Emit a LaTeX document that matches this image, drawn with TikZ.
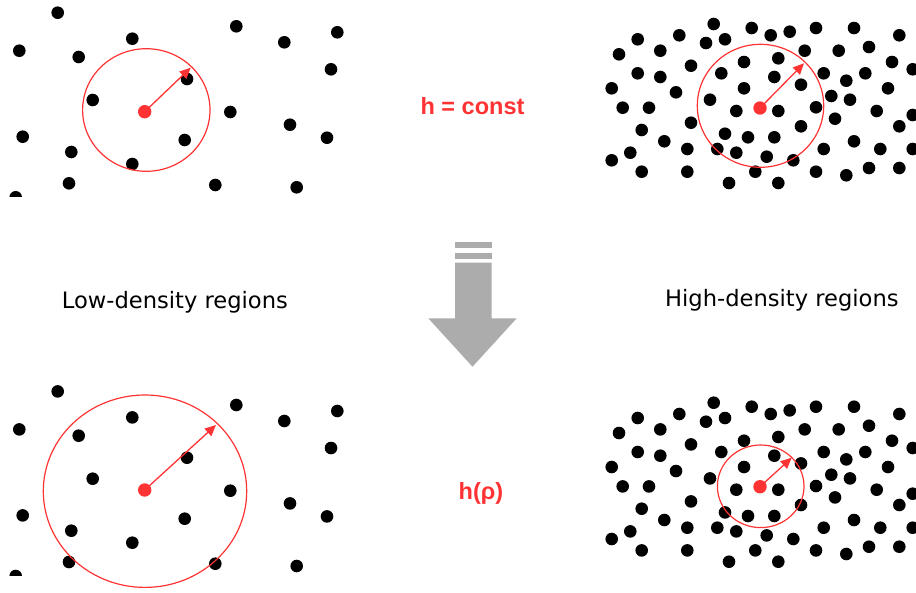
\documentclass[tikz,border=0pt]{standalone}
\usepackage{fontspec}
\newfontfamily\regfont{DejaVu Sans}
\newfontfamily\hfont{Liberation Sans}
\usetikzlibrary{arrows.meta}
\definecolor{hred}{RGB}{255,51,51}
\definecolor{arrowgray}{RGB}{172,172,172}
\tikzset{
  dotpt/.style={fill=black},
  ring/.style={draw=hred, line width=1.2pt},
  radarrow/.style={draw=hred, line width=1.3pt, -{Triangle[length=11pt,width=10pt]}},
  hlabel/.style={text=hred, font=\hfont\bfseries\fontsize{23.5}{28}\selectfont, inner sep=0pt, anchor=base},
  reglabel/.style={text=black, font=\regfont\fontsize{22.6}{27}\selectfont, inner sep=0pt, anchor=base west},
}
\newcommand\leftdots{%
  \foreach \x/\y in {57.7/12.7, 19.3/50.7, 132.3/38.7, 78.7/57, 236.3/26.3, 284.3/42.3,
    337.3/32.3, 331/69.3, 187/79, 92.7/100, 230.3/112, 290/124.7, 327/137.7, 22.7/136.7,
    184.7/140, 71.3/152, 132.3/164, 69/183.3, 215.3/185, 296.7/187.3, 15.7/197.3}
    {\fill[dotpt] (\x,\y) circle[radius=6.3pt];}}
\newcommand\rightdots{%
  \foreach \x/\y in {713.7/24, 751.7/28, 770.7/35.3, 789.7/31.7, 816/28, 854/28, 899.3/35.3,
    637.7/39.3, 679.3/35.3, 706/43, 725/39.3, 619/54.3, 660.3/50.7, 804.7/50.7, 838.7/50.7,
    869/47, 744/62, 778.3/58.3, 691/65.7, 892/62, 637.7/73.3, 660.3/77, 721.3/73.3,
    774.3/77, 823.7/73.3, 865.3/73.3, 912.7/69.3, 846.3/80.7, 611.7/88.3, 676/92.3,
    744/88.3, 801/84.7, 888/88.3, 831.3/96, 850/99.7, 710/99.7, 622.7/107.7, 649/107.7,
    736.3/111, 778.3/111, 816/107.3, 876.7/111, 912.7/115, 691/122.7, 835/118.7,
    801/126.3, 899.3/126.3, 641.7/130, 725/133.7, 748/137.3, 774.3/137.3, 664.3/141.3,
    854/141.3, 912.7/149, 687.3/149, 717.3/149, 736.3/152.7, 766.7/156.7, 823.7/149,
    880.3/149, 630.3/152.7, 611.7/160.3, 793.3/160.3, 641.7/171.7, 687.3/171.7,
    755.3/171.7, 816/171.7, 846.3/175.3, 869/168, 899.3/168, 729/183, 778.3/183}
    {\fill[dotpt] (\x,\y) circle[radius=6.3pt];}}
\begin{document}
\begin{tikzpicture}[x=1pt, y=-1pt]
\useasboundingbox (0,0) rectangle (916,592);
\clip (0,0) rectangle (916,592);
% ---- top-left: low density, h = const
\begin{scope}
  \clip (0,0) rectangle (350,196.8);
  \leftdots
\end{scope}
\draw[ring] (146.3,110) ellipse[x radius=63.7pt, y radius=61.3pt];
\fill[hred] (144.7,111.7) circle[radius=6.7pt];
\coordinate (tlc) at (144.7,111.7);
\coordinate (tlt) at (190.7,67.7);
\draw[radarrow] (tlc) -- (tlt);
% ---- top-right: high density, h = const
\rightdots
\draw[ring] (760.5,105.8) ellipse[x radius=63.2pt, y radius=61.5pt];
\fill[hred] (760,108) circle[radius=6.7pt];
\coordinate (trc) at (760,108);
\coordinate (trt) at (804,63.3);
\draw[radarrow] (trc) -- (trt);
% ---- bottom-left: low density, h(rho)
\begin{scope}[shift={(0,378.7)}]
  \begin{scope}
    \clip (0,0) rectangle (350,196.8);
    \leftdots
  \end{scope}
\end{scope}
\draw[ring] (145,491.2) ellipse[x radius=101.7pt, y radius=96.2pt];
\fill[hred] (144.7,490) circle[radius=6.7pt];
\coordinate (blc) at (144.7,490);
\coordinate (blt) at (216,425);
\draw[radarrow] (blc) -- (blt);
% ---- bottom-right: high density, h(rho)
\begin{scope}[shift={(0,378.7)}]
  \rightdots
\end{scope}
\draw[ring] (760.7,486.3) ellipse[x radius=43.3pt, y radius=41.3pt];
\fill[hred] (760,486.7) circle[radius=6.7pt];
\coordinate (brc) at (760,486.7);
\coordinate (brt) at (791.7,457.7);
\draw[radarrow] (brc) -- (brt);
% ---- labels
\node[hlabel] (hconst) at (472.5,114.5) {h = const};
\node[hlabel] (hrho) at (481,499) {h(ρ)};
\node[reglabel] (low) at (61.7,308.5) {Low-density regions};
\node[reglabel] (high) at (665,306.5) {High-density regions};
% ---- gray down arrow
\fill[arrowgray] (455,241.7) rectangle (491.7,247.7);
\fill[arrowgray] (455,252.7) rectangle (491.7,259.3);
\fill[arrowgray] (455,262.7) -- (491.7,262.7) -- (491.7,318.3) -- (516.7,318.3)
  -- (472.5,366.7) -- (428.3,318.3) -- (455,318.3) -- cycle;
\end{tikzpicture}
\end{document}
